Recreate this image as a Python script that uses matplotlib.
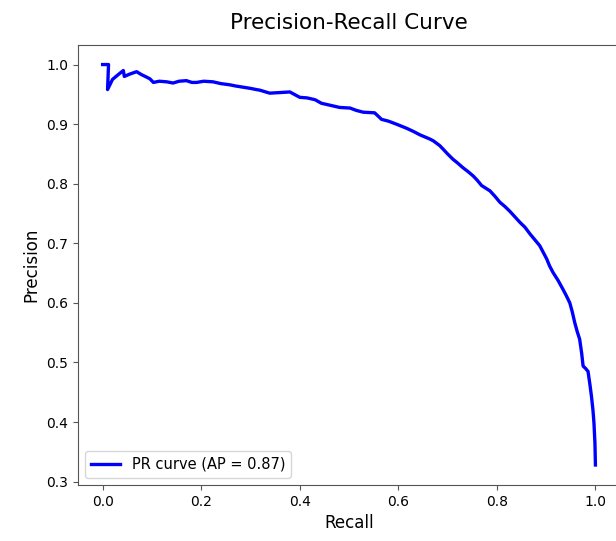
import matplotlib
matplotlib.use("Agg")
import matplotlib.pyplot as plt

# Precision-recall curve points (recall, precision)
recall = [0.000, 0.012, 0.010, 0.020, 0.030, 0.042, 0.044, 0.055, 0.069, 0.079,
          0.089, 0.096, 0.103, 0.115, 0.130, 0.143, 0.155, 0.170, 0.181, 0.191,
          0.205, 0.224, 0.240, 0.258, 0.270, 0.285, 0.300, 0.312, 0.319, 0.339,
          0.360, 0.380, 0.400, 0.415, 0.431, 0.444, 0.460, 0.481, 0.502, 0.515,
          0.529, 0.552, 0.566, 0.580, 0.596, 0.617, 0.630, 0.644, 0.664, 0.671,
          0.684, 0.691, 0.700, 0.711, 0.720, 0.731, 0.742, 0.752, 0.760, 0.769,
          0.786, 0.796, 0.806, 0.816, 0.826, 0.836, 0.847, 0.857, 0.867, 0.877,
          0.887, 0.894, 0.901, 0.907, 0.914, 0.924, 0.934, 0.941, 0.948, 0.953,
          0.958, 0.963, 0.968, 0.972, 0.975, 0.980, 0.985, 0.989, 0.992, 0.995,
          0.997, 0.999, 1.000]
precision = [1.000, 1.000, 0.958, 0.975, 0.982, 0.990, 0.980, 0.984, 0.988, 0.983,
             0.979, 0.976, 0.970, 0.972, 0.971, 0.969, 0.972, 0.973, 0.970, 0.970,
             0.972, 0.971, 0.968, 0.966, 0.964, 0.962, 0.960, 0.958, 0.957, 0.952,
             0.953, 0.954, 0.945, 0.944, 0.941, 0.935, 0.932, 0.928, 0.927, 0.923,
             0.920, 0.919, 0.908, 0.905, 0.900, 0.893, 0.888, 0.882, 0.875, 0.872,
             0.864, 0.858, 0.850, 0.841, 0.835, 0.827, 0.820, 0.813, 0.806, 0.797,
             0.788, 0.779, 0.769, 0.762, 0.754, 0.745, 0.735, 0.727, 0.716, 0.706,
             0.696, 0.685, 0.674, 0.662, 0.651, 0.638, 0.623, 0.612, 0.600, 0.585,
             0.567, 0.552, 0.539, 0.516, 0.494, 0.490, 0.485, 0.462, 0.443, 0.420,
             0.399, 0.365, 0.328]
average_precision = 0.87

plt.rcParams["font.family"] = ["DejaVu Sans"]

fig = plt.figure(figsize=(6.16, 5.41), dpi=100)
ax = fig.add_axes([0.1266, 0.1035, 0.88, 0.8142])

ax.plot(recall, precision, color="blue", lw=2.4,
        label=f"PR curve (AP = {average_precision:.2f})")

ax.set_title("Precision-Recall Curve", fontsize=15.5, pad=11)
ax.set_xlabel("Recall", fontsize=12)
ax.set_ylabel("Precision", fontsize=12)
ax.tick_params(labelsize=10)
ax.set_xticks([0.0, 0.2, 0.4, 0.6, 0.8, 1.0])
ax.set_yticks([0.3, 0.4, 0.5, 0.6, 0.7, 0.8, 0.9, 1.0])
for s in ax.spines.values():
    s.set_color("#555555")
ax.tick_params(color="#555555")
ax.legend(loc="lower left", fontsize=10.5)

fig.savefig("out.png", dpi=100)
